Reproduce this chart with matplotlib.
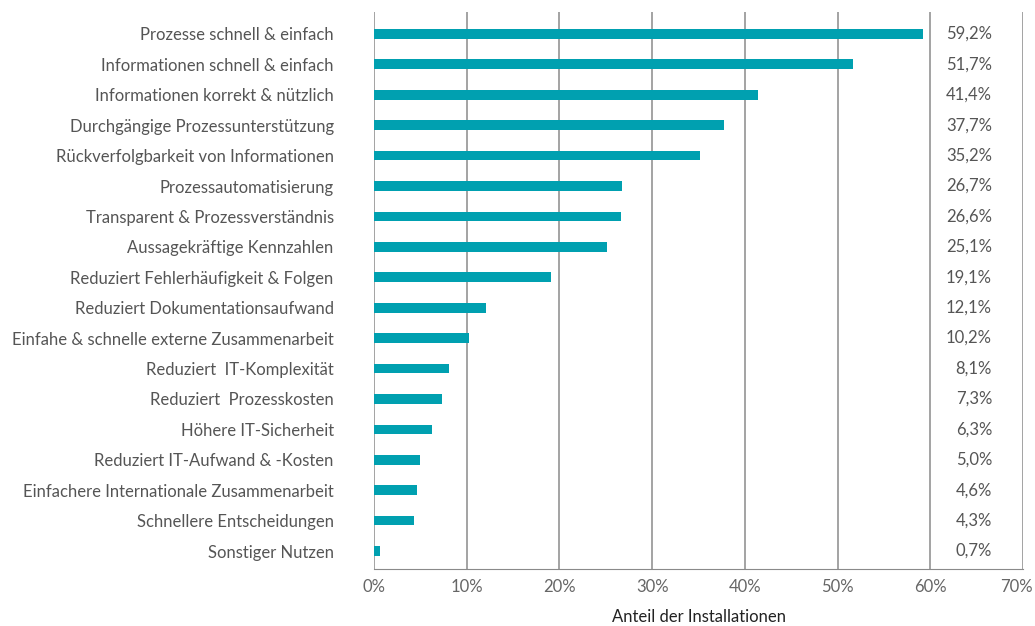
import matplotlib.pyplot as plt
import matplotlib.transforms as mtransforms

categories = [
    "Prozesse schnell & einfach",
    "Informationen schnell & einfach",
    "Informationen korrekt & nützlich",
    "Durchgängige Prozessunterstützung",
    "Rückverfolgbarkeit von Informationen",
    "Prozessautomatisierung",
    "Transparent & Prozessverständnis",
    "Aussagekräftige Kennzahlen",
    "Reduziert Fehlerhäufigkeit & Folgen",
    "Reduziert Dokumentationsaufwand",
    "Einfahe & schnelle externe Zusammenarbeit",
    "Reduziert  IT-Komplexität",
    "Reduziert  Prozesskosten",
    "Höhere IT-Sicherheit",
    "Reduziert IT-Aufwand & -Kosten",
    "Einfachere Internationale Zusammenarbeit",
    "Schnellere Entscheidungen",
    "Sonstiger Nutzen",
]
values = [59.2, 51.7, 41.4, 37.7, 35.2, 26.7, 26.6, 25.1, 19.1, 12.1,
          10.2, 8.1, 7.3, 6.3, 5.0, 4.6, 4.3, 0.7]
xticks = [0, 10, 20, 30, 40, 50, 60, 70]

plt.rcParams['font.family'] = ['Lato', 'DejaVu Sans']
fs = 12

fig = plt.figure(figsize=(10.35, 6.26), dpi=100)
ax = fig.add_axes([374 / 1035, 57 / 626, 649 / 1035, 557 / 626])

ypos = list(range(len(categories)))
ax.barh(ypos, values, height=0.32, color="#00a0b0", zorder=3)

ax.set_xlim(0, 70)
ax.set_ylim(len(categories) - 1 + 0.59, -0.72)

for x in xticks:
    ax.axvline(x, color="#8a8a8a", lw=1.1, zorder=1)

for y, v in zip(ypos, values):
    ax.text(66.66, y, ("%.1f%%" % v).replace(".", ","), ha="right", va="center",
            fontsize=fs, color="#555555")

ax.set_yticks(ypos)
ax.set_yticklabels(categories, fontsize=fs, color="#555555")
ax.set_xticks(xticks)
ax.set_xticklabels(["%d%%" % x for x in xticks], fontsize=fs, color="#666666")
ax.tick_params(axis="both", length=0)
ax.tick_params(axis="y", pad=29)
ax.tick_params(axis="x", pad=7)

# last tick label sits a bit to the left so it stays inside the figure
last = ax.get_xticklabels()[-1]
last.set_horizontalalignment("right")
last.set_transform(last.get_transform() +
                   mtransforms.ScaledTranslation(10 / 100, 0, fig.dpi_scale_trans))

for s in ["top", "left", "right"]:
    ax.spines[s].set_visible(False)
ax.spines["bottom"].set_color("#8a8a8a")

ax.set_xlabel("Anteil der Installationen", fontsize=fs, color="#222222", labelpad=10)

fig.savefig("out.png", dpi=100)
